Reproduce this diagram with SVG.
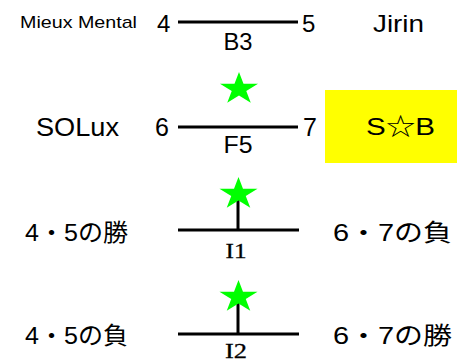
<svg xmlns="http://www.w3.org/2000/svg" width="457" height="362" viewBox="0 0 457 362">
<style>
.t{font-family:"Liberation Sans","Noto Sans CJK JP",sans-serif;fill:#000}
.s{font-family:"Liberation Serif","Noto Serif",serif;fill:#000;stroke:#000;stroke-width:0.3}
.ln{stroke:#000;stroke-width:3;fill:none}
.star{fill:#00ff00}
</style>
<defs>
<polygon id="star" class="star" points="0,-17 4.49,-5.25 19.02,-5.25 7.26,2 11.76,13.75 0,6.49 -11.76,13.75 -7.26,2 -19.02,-5.25 -4.49,-5.25"/>
</defs>
<rect width="457" height="362" fill="#fff"/>
<g id="connectors">
<line class="ln" x1="178" y1="22" x2="298" y2="22"/>
<line class="ln" x1="178" y1="127" x2="298" y2="127"/>
<line class="ln" x1="178" y1="230" x2="299" y2="230"/>
<line class="ln" x1="238" y1="200" x2="238" y2="230"/>
<line class="ln" x1="178" y1="334" x2="299" y2="334"/>
<line class="ln" x1="238" y1="303" x2="238" y2="334"/>
</g>
<g id="row1">
<text class="t" x="20" y="28" font-size="17" textLength="117" lengthAdjust="spacingAndGlyphs">Mieux Mental</text>
<text class="t" x="157" y="32" font-size="24">4</text>
<text class="t" x="302" y="32" font-size="24">5</text>
<text class="t" x="373" y="32" font-size="24" textLength="51" lengthAdjust="spacingAndGlyphs">Jirin</text>
<text class="t" x="238" y="50" font-size="23" text-anchor="middle" textLength="29" lengthAdjust="spacingAndGlyphs">B3</text>
</g>
<g id="row2">
<use href="#star" x="239" y="89"/>
<text class="t" x="36" y="136" font-size="25" textLength="83" lengthAdjust="spacingAndGlyphs">SOLux</text>
<text class="t" x="155" y="136" font-size="25">6</text>
<text class="t" x="303" y="136" font-size="25">7</text>
<text class="t" x="238" y="153" font-size="23" text-anchor="middle" textLength="29" lengthAdjust="spacingAndGlyphs">F5</text>
<g id="winner">
<rect x="325" y="90" width="132" height="73" fill="#ffff00"/>
<text class="t" x="366" y="135" font-size="24" textLength="69" lengthAdjust="spacingAndGlyphs">S☆B</text>
</g>
</g>
<g id="row3">
<use href="#star" x="238.5" y="194"/>
<text class="t" x="25" y="241" font-size="24" textLength="103" lengthAdjust="spacingAndGlyphs">4・5の勝</text>
<text class="t" x="333" y="241" font-size="24" textLength="119" lengthAdjust="spacingAndGlyphs">6・7の負</text>
<text class="s" x="236" y="258" font-size="22" text-anchor="middle" textLength="21" lengthAdjust="spacingAndGlyphs">I1</text>
</g>
<g id="row4">
<use href="#star" x="238.5" y="297"/>
<text class="t" x="25" y="344" font-size="24" textLength="103" lengthAdjust="spacingAndGlyphs">4・5の負</text>
<text class="t" x="333" y="344" font-size="24" textLength="119" lengthAdjust="spacingAndGlyphs">6・7の勝</text>
<text class="s" x="236" y="358" font-size="21" text-anchor="middle" textLength="22" lengthAdjust="spacingAndGlyphs">I2</text>
</g>
</svg>
